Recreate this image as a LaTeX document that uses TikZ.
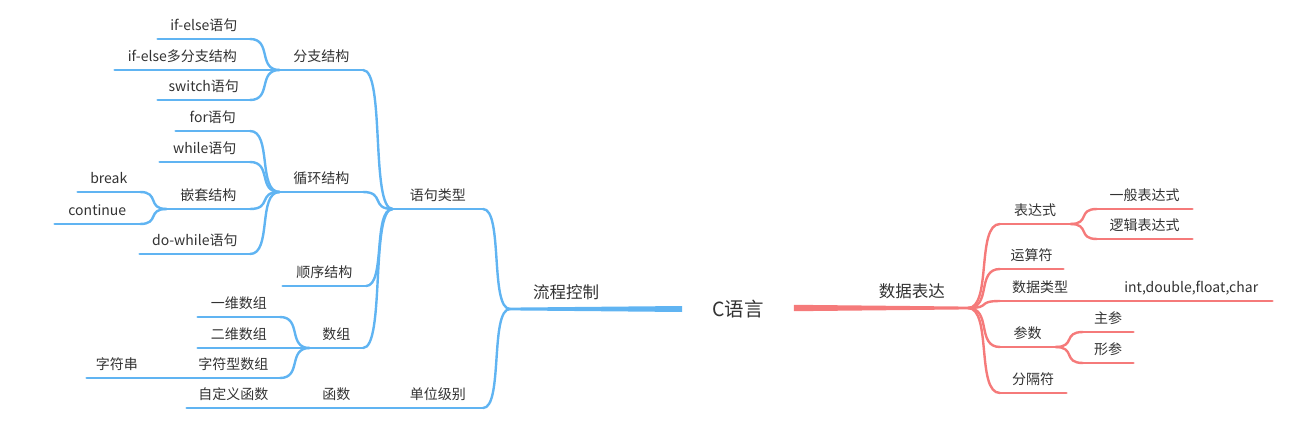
\documentclass[tikz,border=0pt]{standalone}
\usepackage{fontspec}
\newfontfamily\cjk{Noto Sans CJK SC}
\usepackage{tikz}
\usetikzlibrary{calc}
\definecolor{mmBlue}{RGB}{96,180,242}
\definecolor{mmRed}{RGB}{245,122,122}
\definecolor{mmInk}{RGB}{50,50,50}

\begin{document}
\begin{tikzpicture}[x=1pt,y=-1pt,font=\cjk,
  topic/.style={inner xsep=0pt,inner ysep=0pt,text height=12pt,text depth=8.5pt,
                text=mmInk,font=\cjk\fontsize{14}{16}\selectfont},
  ltopic/.style={topic,anchor=south east,minimum width=#1},
  rtopic/.style={topic,anchor=south west,minimum width=#1},
  main/.style={topic,text height=14pt,text depth=10pt,
               font=\cjk\fontsize{16.5}{18}\selectfont,minimum width=112pt},
  root/.style={inner xsep=30pt,text=mmInk,font=\cjk\fontsize{19.5}{21}\selectfont},
  bline/.style={draw=mmBlue,line width=2.4pt,line cap=round},
  rline/.style={draw=mmRed,line width=2.4pt,line cap=round},
  br/.style={to path={let \p1=(\tikztostart), \p2=(\tikztotarget) in
             .. controls ({\x1+0.75*(\x2-\x1)},\y1) and ({\x1+0.25*(\x2-\x1)},\y2)
             .. (\tikztotarget)}}]
\useasboundingbox (0,0) rectangle (1297,422);

% Root
\node[root] (root) at (738,309) {C语言};

% Left: flow control
\node[main,anchor=south west] (liucheng) at (510,309) {流程控制};
\node[ltopic=90] (yuju) at (483,209) {语句类型};
\node[ltopic=90] (danwei) at (483,408) {单位级别};
\node[ltopic=83] (fenzhi) at (363,70) {分支结构};
\node[ltopic=83] (xunhuan) at (363,192) {循环结构};
\node[ltopic=83] (shunxu) at (366,286) {顺序结构};
\node[ltopic=53] (shuzu) at (363,348) {数组};
\node[ltopic=113] (hanshu) at (393,408) {函数};
\node[ltopic=93] (zidingyi) at (280,408) {自定义函数};
\node[ltopic=92] (ifelse) at (250,39) {if-else语句};
\node[ltopic=135] (ifelseduo) at (250,70) {if-else多分支结构};
\node[ltopic=92] (switch) at (250,100) {switch语句};
\node[ltopic=74] (for) at (250,131) {for语句};
\node[ltopic=90] (while) at (250,162) {while语句};
\node[ltopic=83] (qiantao) at (250,209) {嵌套结构};
\node[ltopic=110] (dowhile) at (250,254) {do-while语句};
\node[ltopic=62] (break) at (140,192) {break};
\node[ltopic=85] (continue) at (140,224) {continue};
\node[ltopic=82] (yiwei) at (280,317) {一维数组};
\node[ltopic=82] (erwei) at (280,348) {二维数组};
\node[ltopic=93] (zifuxing) at (280,378) {字符型数组};
\node[ltopic=60] (zifuchuan) at (147,378) {字符串};

% Right: data expression
\node[main,anchor=south east] (shuju) at (968,308) {数据表达};
\node[rtopic=70] (biaodashi) at (1000,224) {表达式};
\node[rtopic=63] (yunsuan) at (1000,269) {运算符};
\node[rtopic=80] (leixing) at (1000,301) {数据类型};
\node[rtopic=162] (intdouble) at (1110,301) {int,double,float,char};
\node[rtopic=55] (canshu) at (1000,347) {参数};
\node[rtopic=66] (fenge) at (1000,393) {分隔符};
\node[rtopic=95] (yiban) at (1097,209) {一般表达式};
\node[rtopic=95] (luoji) at (1097,239) {逻辑表达式};
\node[rtopic=50] (zhu) at (1083,332) {主参};
\node[rtopic=50] (xing) at (1083,363) {形参};

% Tapered trunks
\fill[mmBlue] ($(liucheng.south west)+(0,-1.4)$) -- ($(root.west |- liucheng.south west)+(0,-3)$)
  -- ($(root.west |- liucheng.south west)+(0,3)$) -- ($(liucheng.south west)+(0,1.4)$) -- cycle;
\fill[mmRed] ($(shuju.south east)+(0,-1.4)$) -- ($(root.east |- shuju.south east)+(0,-3.2)$)
  -- ($(root.east |- shuju.south east)+(0,3.2)$) -- ($(shuju.south east)+(0,1.4)$) -- cycle;

% Underlines
\foreach \n in {yuju,danwei,fenzhi,xunhuan,shunxu,shuzu,hanshu,zidingyi,ifelse,
                ifelseduo,switch,for,while,qiantao,dowhile,break,continue,
                yiwei,erwei,zifuxing,zifuchuan}
  \draw[bline] (\n.south west) -- (\n.south east);
\foreach \n in {biaodashi,yunsuan,leixing,intdouble,canshu,fenge,yiban,luoji,zhu,xing}
  \draw[rline] (\n.south west) -- (\n.south east);

% Blue connectors
\foreach \kid/\mom in {yuju/liucheng,danwei/liucheng,
                   fenzhi/yuju,xunhuan/yuju,shunxu/yuju,shuzu/yuju,hanshu/danwei,
                   zidingyi/hanshu,ifelse/fenzhi,ifelseduo/fenzhi,switch/fenzhi,
                   for/xunhuan,while/xunhuan,qiantao/xunhuan,dowhile/xunhuan,
                   break/qiantao,continue/qiantao,
                   yiwei/shuzu,erwei/shuzu,zifuxing/shuzu,zifuchuan/zifuxing}
  \draw[bline] (\kid.south east) to[br] (\mom.south west);

% Red connectors
\foreach \mom/\kid in {shuju/biaodashi,shuju/yunsuan,shuju/leixing,shuju/canshu,shuju/fenge,
                   leixing/intdouble,biaodashi/yiban,biaodashi/luoji,canshu/zhu,canshu/xing}
  \draw[rline] (\mom.south east) to[br] (\kid.south west);
\end{tikzpicture}
\end{document}
